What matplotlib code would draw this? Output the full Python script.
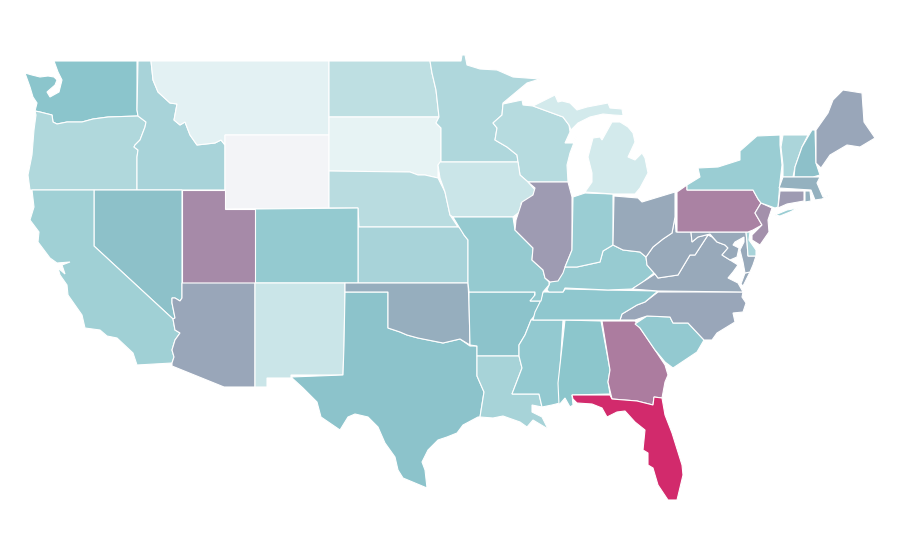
import matplotlib
matplotlib.use('Agg')
from matplotlib import pyplot as plt
from matplotlib.colors import LinearSegmentedColormap, Normalize
from matplotlib.patches import Polygon

# outlines, in image pixels
WA = [(54,61),(137,61),(137,110),(138,116),(108,117),(93,119),(82,122),(67,122),(57,124),(53,122),(52,115),(40,112),(35,111),(37,103),(33,97),(30,87),(25,73),(32,75),(40,77),(48,76),(54,77),(57,80),(55,85),(47,92),(50,97),(59,92),(62,80),(58,72)]
OR = [(35,111),(40,112),(52,115),(53,122),(57,124),(67,122),(82,122),(93,119),(108,117),(138,116),(146,122),(145,127),(140,140),(135,145),(134,147),(138,150),(137,157),(137,190),(30,190),(28,175),(32,155),(34,130),(36,115)]
ID = [(138,61),(151,61),(153,80),(158,92),(170,103),(177,104),(174,120),(180,125),(185,122),(190,135),(197,145),(215,143),(221,140),(225,145),(225,190),(137,190),(137,157),(138,150),(134,147),(135,145),(140,140),(145,127),(146,122),(138,116),(137,110)]
MT = [(151,61),(329,61),(329,135),(225,135),(225,145),(221,140),(215,143),(197,145),(190,135),(185,122),(180,125),(174,120),(177,104),(170,103),(158,92),(153,80)]
WY = [(225,135),(329,135),(329,208),(225,209)]
ND = [(329,61),(430,61),(432,73),(436,90),(439,117),(329,117)]
SD = [(329,117),(439,117),(436,123),(441,128),(441,162),(438,165),(438,178),(425,175),(418,175),(410,172),(329,171)]
NE = [(329,171),(410,172),(418,175),(425,175),(438,178),(445,192),(450,215),(458,227),(359,227),(358,208),(329,208)]
KS = [(358,227),(459,227),(462,231),(464,235),(468,240),(468,283),(358,283)]
CO = [(255,209),(358,208),(358,283),(255,283)]
UT = [(182,190),(225,190),(225,209),(255,209),(255,283),(182,283)]
NV = [(94,190),(182,190),(182,298),(180,301),(175,298),(172,298),(172,303),(175,318),(173,319),(94,246)]
CA = [(32,190),(94,190),(94,246),(173,319),(175,330),(180,333),(175,340),(172,350),(174,357),(172,363),(137,365),(133,353),(117,338),(107,336),(100,330),(85,328),(82,315),(68,295),(67,285),(60,275),(58,268),(65,274),(62,265),(70,262),(57,263),(50,258),(38,242),(39,232),(30,220),(34,207)]
AZ = [(182,283),(255,283),(255,387),(224,387),(172,366),(172,363),(174,357),(172,350),(175,340),(180,333),(175,330),(173,319),(175,318),(172,303),(172,298),(175,298),(180,301),(182,298)]
NM = [(255,283),(345,283),(345,292),(344,345),(343,375),(291,375),(291,378),(267,378),(267,387),(255,387)]
TX = [(345,292),(388,292),(388,328),(400,332),(407,335),(418,338),(433,341),(443,343),(460,339),(470,346),(477,346),(477,376),(484,392),(480,417),(478,417),(463,425),(457,433),(447,437),(438,440),(428,450),(422,462),(425,470),(427,488),(415,483),(403,478),(398,470),(395,457),(385,443),(378,427),(368,417),(355,414),(348,417),(340,430),(321,417),(317,402),(303,388),(291,377),(343,375),(344,345)]
OK = [(345,283),(468,283),(469,302),(470,345),(460,339),(443,343),(433,341),(418,338),(407,335),(400,332),(388,328),(388,292),(345,292)]
AR = [(469,292),(535,292),(534,298),(530,301),(541,301),(535,315),(531,320),(525,335),(519,345),(519,356),(477,356),(477,346),(470,345),(469,302)]
LA = [(477,356),(519,356),(522,368),(512,394),(539,394),(542,407),(532,405),(532,412),(542,417),(548,429),(533,420),(527,427),(520,422),(503,416),(493,418),(480,417),(484,392),(477,376)]
MS = [(531,320),(563,320),(560,370),(560,403),(552,405),(542,407),(539,394),(512,394),(522,368),(519,356),(519,345),(525,335)]
AL = [(565,320),(601,321),(610,370),(608,382),(610,394),(572,395),(573,405),(570,407),(565,398),(559,405),(558,383),(562,347)]
GA = [(602,321),(635,321),(640,328),(655,350),(665,365),(668,375),(665,382),(662,398),(654,397),(653,405),(637,401),(612,399),(608,382),(610,370)]
FL = [(572,395),(610,395),(612,399),(637,401),(653,405),(654,397),(662,398),(665,415),(672,433),(682,465),(683,475),(677,500),(668,500),(658,485),(653,468),(648,465),(648,453),(643,450),(645,430),(635,422),(625,411),(617,412),(607,417),(602,408),(592,404),(577,403),(573,399)]
SC = [(635,324),(647,316),(670,317),(673,323),(688,323),(704,340),(697,352),(673,368),(665,362),(655,350),(640,328)]
NC = [(620,320),(622,314),(637,305),(645,302),(658,292),(743,292),(742,297),(746,303),(743,312),(733,313),(735,322),(717,333),(712,340),(704,340),(688,323),(673,323),(670,317),(647,316),(635,320)]
TN = [(543,292),(563,292),(565,289),(608,290),(658,291),(645,302),(637,305),(622,314),(620,320),(533,320),(535,312),(540,302)]
KY = [(550,282),(558,280),(565,267),(577,267),(600,262),(603,251),(613,245),(623,250),(640,252),(646,257),(647,265),(654,273),(643,282),(632,289),(608,290),(565,288),(563,292),(549,292),(547,290),(549,285)]
VA = [(632,289),(655,274),(658,278),(678,275),(690,255),(695,255),(708,235),(712,237),(717,242),(725,245),(728,248),(722,255),(730,260),(738,265),(733,272),(728,278),(738,283),(743,292),(658,291)]
VA_SHORE = [(745,273),(750,272),(743,286),(741,284)]
WV = [(646,257),(653,247),(663,239),(672,233),(675,217),(676,232),(691,232),(692,242),(698,237),(710,234),(708,235),(695,255),(690,255),(678,275),(658,278),(655,274),(654,273),(647,265)]
MD = [(691,232),(746,232),(747,242),(748,256),(756,256),(753,265),(750,272),(745,273),(743,262),(740,250),(744,242),(744,237),(735,242),(733,245),(739,248),(737,257),(730,260),(722,255),(728,248),(725,245),(717,242),(710,234),(698,237),(692,242)]
DE = [(746,232),(750,232),(749,240),(756,250),(756,256),(748,256),(747,242)]
PA = [(677,192),(687,185),(687,190),(753,190),(758,199),(761,203),(755,213),(762,225),(753,230),(748,232),(677,232)]
NJ = [(761,203),(772,208),(768,220),(769,232),(760,245),(752,240),(752,235),(762,225),(755,213)]
NY = [(687,185),(700,177),(698,168),(718,167),(740,160),(740,151),(757,136),(780,135),(780,145),(782,165),(780,182),(778,207),(775,208),(761,203),(758,199),(753,190),(687,190)]
NY_ISLAND = [(775,215),(787,210),(798,208),(790,212),(780,216)]
VT = [(783,135),(808,135),(802,147),(795,167),(793,177),(783,177),(783,165),(781,147)]
NH = [(809,135),(812,130),(815,130),(816,163),(820,175),(813,177),(794,177),(795,167),(802,147)]
ME = [(816,130),(828,113),(833,100),(843,90),(862,93),(864,122),(875,138),(860,147),(847,145),(830,155),(821,168),(816,163)]
MA = [(783,177),(813,177),(820,177),(817,183),(823,197),(830,195),(822,199),(815,200),(811,190),(779,188)]
CT = [(780,191),(804,191),(804,201),(787,204),(778,208)]
RI = [(805,191),(810,191),(811,201),(805,202)]
MN = [(430,61),(461,61),(462,55),(465,55),(467,65),(480,69),(497,70),(513,77),(540,79),(527,83),(503,103),(502,115),(493,123),(497,128),(495,140),(507,147),(517,155),(518,162),(441,162),(441,128),(436,123),(439,117),(436,90),(432,73)]
WI = [(503,104),(522,100),(523,105),(533,106),(563,117),(569,125),(570,132),(565,143),(573,143),(578,132),(570,153),(567,165),(568,182),(528,182),(520,175),(518,162),(517,155),(507,147),(495,140),(497,128),(493,123),(502,115)]
IA = [(440,162),(518,162),(520,175),(528,182),(535,190),(532,198),(521,203),(522,210),(513,217),(453,217),(450,215),(445,192),(440,178),(438,165)]
MO = [(453,217),(513,217),(515,230),(525,240),(533,248),(532,260),(543,270),(545,278),(549,282),(549,285),(543,292),(541,301),(530,301),(535,295),(535,292),(469,292),(468,283),(468,240),(464,235),(459,227)]
IL = [(528,182),(568,182),(572,197),(572,250),(565,267),(563,273),(558,281),(550,282),(545,278),(543,270),(532,260),(533,248),(525,240),(515,230),(516,220),(522,202),(533,195),(535,188)]
IN = [(573,197),(585,193),(613,194),(613,245),(603,251),(600,262),(577,267),(565,267),(572,250)]
OH = [(614,196),(638,198),(642,202),(675,192),(675,217),(672,233),(663,239),(653,247),(646,257),(640,252),(623,250),(613,245)]
MI_UPPER = [(533,106),(541,102),(555,95),(558,102),(562,101),(570,103),(577,110),(587,107),(608,103),(610,108),(622,109),(623,115),(630,116),(613,115),(603,114),(590,117),(578,123),(571,130),(569,125),(563,117)]
MI_LOWER = [(585,192),(592,182),(592,173),(588,157),(593,138),(600,137),(602,140),(612,122),(620,122),(628,127),(633,133),(635,142),(628,157),(635,160),(642,153),(645,158),(648,173),(640,188),(635,194),(613,194)]

wy_val, mt_val, sd_val, mi_val, ia_val, nm_val = 0, 6.5, 5, 12.3, 15.8, 16
nd_val, ne_val, wi_val, or_val, mn_val, id_val = 20.5, 22.5, 23.5, 26, 26.5, 29
ks_val, la_val, vt_val, de_val, ca_val, ny_val = 29, 29.5, 28, 29, 32, 34
in_val, co_val, mo_val, ky_val, sc_val, tn_val = 34, 36.5, 36, 35.5, 37, 38.5
al_val, ms_val, ar_val, tx_val, nv_val, wa_val = 39.6, 37, 41, 41, 41.5, 40
nh_val, ma_val, ok_val, oh_val, wv_val, va_val = 42, 48, 49, 51, 51, 51
md_val, ri_val, nc_val, az_val, me_val, il_val = 51, 48, 52, 52, 52, 56
ct_val, nj_val, ut_val, pa_val, ga_val, fl_val = 56, 60.5, 62.5, 66, 68, 100

states = [
    (WA, wa_val), (OR, or_val), (ID, id_val), (MT, mt_val), (WY, wy_val), (ND, nd_val), (SD, sd_val),
    (NE, ne_val), (KS, ks_val), (CO, co_val), (UT, ut_val), (NV, nv_val), (CA, ca_val), (AZ, az_val),
    (NM, nm_val), (TX, tx_val), (OK, ok_val), (AR, ar_val), (LA, la_val), (MS, ms_val), (AL, al_val),
    (GA, ga_val), (FL, fl_val), (SC, sc_val), (NC, nc_val), (TN, tn_val), (KY, ky_val), (VA, va_val),
    (VA_SHORE, va_val), (WV, wv_val), (MD, md_val), (DE, de_val), (PA, pa_val), (NJ, nj_val), (NY, ny_val),
    (NY_ISLAND, ny_val), (VT, vt_val), (NH, nh_val), (ME, me_val), (MA, ma_val), (CT, ct_val), (RI, ri_val),
    (MN, mn_val), (WI, wi_val), (IA, ia_val), (MO, mo_val), (IL, il_val), (IN, in_val), (OH, oh_val),
    (MI_UPPER, mi_val), (MI_LOWER, mi_val),
]

cmap = LinearSegmentedColormap.from_list('map', [(0, '#f3f4f7'), (0.05, '#e6f3f4'), (0.4, '#8bc5cc'), (1, '#d22a6c')])
norm = Normalize(0, 100)

fig = plt.figure(figsize=(9, 5.6), dpi=100)
ax = fig.add_axes([0, 0, 1, 1])
for outline, val in states:
    ax.add_patch(Polygon(outline, closed=True, facecolor=cmap(norm(val)), edgecolor='white', linewidth=0.8))
ax.set_xlim(0, 900)
ax.set_ylim(560, 0)
ax.axis('off')
fig.savefig('out.png', dpi=100)
